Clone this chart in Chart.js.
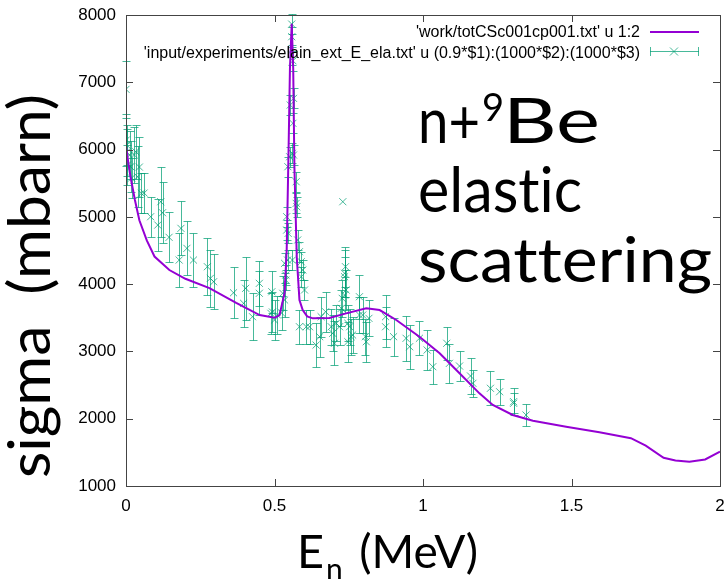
<!DOCTYPE html>
<html>
<head>
<meta charset="utf-8">
<script src="https://cdn.jsdelivr.net/npm/chart.js@4.4.1/dist/chart.umd.min.js"></script>
<style>
  html, body { margin: 0; padding: 0; background: #fff; }
  #wrap { width: 726px; height: 579px; }
</style>
</head>
<body>
<div id="wrap"><canvas id="chart" width="726" height="579"></canvas></div>
<script>
// Theory curve: 'work/totCSc001cp001.txt' u 1:2
const theoryE = [0, 0.008, 0.015, 0.03, 0.045, 0.07, 0.096, 0.146, 0.2, 0.281, 0.371, 0.45, 0.5, 0.517, 0.534, 0.541, 0.547, 0.552, 0.558, 0.563, 0.567, 0.575, 0.584, 0.595, 0.61, 0.629, 0.685, 0.741, 0.809, 0.854, 0.91, 0.988, 1.056, 1.123, 1.19, 1.235, 1.302, 1.37, 1.482, 1.594, 1.7, 1.75, 1.81, 1.85, 1.897, 1.95, 2.0];
const theorySigma = [6050, 5800, 5600, 5250, 4950, 4650, 4410, 4210, 4080, 3940, 3720, 3540, 3500, 3541, 3870, 4500, 5900, 7200, 7870, 7200, 5745, 4400, 3764, 3615, 3520, 3492, 3496, 3566, 3640, 3615, 3467, 3218, 2972, 2675, 2377, 2204, 2055, 1970, 1881, 1798, 1710, 1600, 1420, 1380, 1360, 1395, 1510];

// Experimental data (energy MeV, sigma mbarn, error mbarn)
const expE = [0.000, 0.001, 0.002, 0.003, 0.005, 0.012, 0.016, 0.019, 0.028, 0.033, 0.039, 0.045, 0.052, 0.061, 0.083, 0.107, 0.117, 0.123, 0.145, 0.179,
  0.185, 0.205, 0.227, 0.274, 0.284, 0.295, 0.362, 0.396, 0.403, 0.426, 0.449, 0.449, 0.491, 0.488, 0.493, 0.500, 0.510, 0.524, 0.528, 0.534,
  0.534, 0.538, 0.538, 0.541, 0.541, 0.544, 0.545, 0.546, 0.551, 0.553, 0.558, 0.558, 0.558, 0.560, 0.560, 0.562, 0.562, 0.564, 0.564, 0.573,
  0.573, 0.575, 0.578, 0.584, 0.590, 0.590, 0.595, 0.601, 0.584, 0.607, 0.618, 0.640, 0.652, 0.657, 0.672, 0.691, 0.696, 0.702, 0.708, 0.719,
  0.725, 0.728, 0.730, 0.736, 0.736, 0.736, 0.739, 0.741, 0.747, 0.747, 0.753, 0.758, 0.763, 0.786, 0.786, 0.797, 0.806, 0.809, 0.818, 0.874,
  0.874, 0.901, 0.943, 0.955, 0.988, 1.014, 1.033, 1.080, 1.089, 1.123, 1.160, 1.168, 1.227, 1.258, 1.305, 1.305, 1.347];
const expSigma = [6895, 6142, 5963, 6067, 5770, 5919, 5745, 5577, 5919, 5968, 5596, 5740, 5350, 5354, 5002, 4878, 5225, 5061, 4696, 4358,
  4829, 4532, 4358, 4259, 4086, 4036, 3872, 3715, 3938, 3516, 4012, 3864, 3887, 3566, 3586, 3467, 3541, 3571, 3864, 3764,
  4309, 4061, 4135, 4804, 5002, 4358, 5745, 4755, 5893, 6662, 7865, 7677, 7405, 5944, 4358, 7320, 6390, 5919, 6761, 5522,
  5201, 5150, 4656, 4482, 4333, 4110, 4210, 3913, 3367, 3367, 3367, 3095, 3219, 3516, 3590, 3367, 3269, 3121, 3418, 3367,
  3641, 3789, 5225, 3838, 4161, 4110, 4259, 3913, 3418, 3144, 3367, 3219, 3244, 3541, 3813, 3541, 3219, 3144, 3492, 3516,
  3367, 3219, 3195, 3070, 3195, 3021, 2773, 3121, 2823, 2783, 2635, 2526, 2452, 2401, 2253, 2229, 2055];
const expErr = [420, 380, 350, 300, 300, 350, 380, 300, 420, 400, 450, 450, 300, 300, 300, 380, 520, 450, 370, 400,
  400, 400, 400, 420, 420, 410, 380, 350, 470, 350, 330, 330, 310, 300, 300, 300, 280, 250, 250, 250,
  150, 150, 150, 150, 150, 150, 150, 150, 150, 150, 150, 150, 150, 150, 150, 150, 150, 150, 150, 150,
  150, 150, 150, 150, 150, 150, 150, 150, 250, 250, 250, 330, 300, 300, 300, 270, 270, 330, 270, 270,
  270, 270, 0, 270, 350, 300, 300, 300, 270, 300, 270, 270, 270, 270, 330, 270, 270, 300, 270, 330,
  300, 280, 330, 330, 250, 300, 250, 245, 285, 225, 265, 200, 250, 190, 205, 150, 165];

const xTicks = [0, 0.5, 1, 1.5, 2];
const yTicks = [1000, 2000, 3000, 4000, 5000, 6000, 7000, 8000];

const theoryLabel = "'work/totCSc001cp001.txt' u 1:2";
const expLabel = "'input/experiments/elain_ext_E_ela.txt' u (0.9*$1):(1000*$2):(1000*$3)";

const theoryColor = '#9400d3';
const expColor = 'rgba(0, 158, 115, 0.72)';
const bigFont = 'Lato, "Open Sans", sans-serif';

// Draw text stretched/squeezed to a target width
function fitText(ctx, text, x, y, width) {
    const w = ctx.measureText(text).width;
    ctx.save();
    ctx.translate(x, y);
    ctx.scale(width / w, 1);
    ctx.fillText(text, 0, 0);
    ctx.restore();
}

// Error bars, frame, ticks, legend and labels in gnuplot style
const gnuplotExtras = {
    id: 'gnuplotExtras',
    beforeDatasetsDraw(chart) {
        const { ctx, scales: { x, y } } = chart;
        ctx.save();
        ctx.strokeStyle = expColor;
        ctx.lineWidth = 1;
        expE.forEach((e, i) => {
            if (expErr[i] <= 0) return;
            const px = Math.round(x.getPixelForValue(e)) + 0.5;
            const top = Math.round(y.getPixelForValue(expSigma[i] + expErr[i])) + 0.5;
            const bot = Math.round(y.getPixelForValue(expSigma[i] - expErr[i])) + 0.5;
            ctx.beginPath();
            ctx.moveTo(px, top); ctx.lineTo(px, bot);
            ctx.moveTo(px - 4, top); ctx.lineTo(px + 4, top);
            ctx.moveTo(px - 4, bot); ctx.lineTo(px + 4, bot);
            ctx.stroke();
        });
        ctx.restore();
    },
    afterDraw(chart) {
        const { ctx, chartArea: a, scales: { x, y } } = chart;
        ctx.save();
        // frame
        ctx.strokeStyle = '#444';
        ctx.lineWidth = 1;
        ctx.strokeRect(Math.round(a.left) + 0.5, Math.round(a.top) + 0.5, Math.round(a.right - a.left), Math.round(a.bottom - a.top));
        // inner ticks on all sides
        ctx.beginPath();
        yTicks.forEach(v => {
            const py = Math.round(y.getPixelForValue(v)) + 0.5;
            ctx.moveTo(a.left, py); ctx.lineTo(a.left + 7, py);
            ctx.moveTo(a.right, py); ctx.lineTo(a.right - 7, py);
        });
        xTicks.forEach(v => {
            const px = Math.round(x.getPixelForValue(v)) + 0.5;
            ctx.moveTo(px, a.bottom); ctx.lineTo(px, a.bottom - 7);
            ctx.moveTo(px, a.top); ctx.lineTo(px, a.top + 7);
        });
        ctx.stroke();

        // legend
        ctx.fillStyle = '#000';
        ctx.font = '16px "Liberation Sans", Arial, sans-serif';
        ctx.textAlign = 'right';
        ctx.textBaseline = 'alphabetic';
        ctx.fillText(theoryLabel, 640, 37);
        ctx.fillText(expLabel, 640, 58);
        ctx.strokeStyle = theoryColor;
        ctx.lineWidth = 2;
        ctx.beginPath(); ctx.moveTo(650, 32); ctx.lineTo(699, 32); ctx.stroke();
        ctx.strokeStyle = expColor;
        ctx.lineWidth = 1;
        ctx.beginPath();
        ctx.moveTo(650, 51.5); ctx.lineTo(699, 51.5);
        ctx.moveTo(650.5, 47); ctx.lineTo(650.5, 56);
        ctx.moveTo(698.5, 47); ctx.lineTo(698.5, 56);
        ctx.moveTo(670, 47.5); ctx.lineTo(678, 55.5);
        ctx.moveTo(670, 55.5); ctx.lineTo(678, 47.5);
        ctx.stroke();

        // titles and annotation (no ligatures, Calibri-like)
        ctx.textRendering = 'optimizeSpeed';
        ctx.fillStyle = '#000';
        ctx.textAlign = 'left';
        ctx.font = '58px ' + bigFont;
        ctx.save();
        ctx.translate(50, 478);
        ctx.rotate(-Math.PI / 2);
        fitText(ctx, 'sigma  (mbarn)', 0, 0, 384);
        ctx.restore();

        // x title with subscript
        ctx.font = '46px ' + bigFont;
        fitText(ctx, 'E', 297, 568, 27);
        ctx.font = '30px ' + bigFont;
        ctx.fillText('n', 326, 580);
        ctx.font = '46px ' + bigFont;
        ctx.textAlign = 'right';
        ctx.fillText('(MeV)', 478, 568);

        // annotation
        ctx.textAlign = 'left';
        ctx.font = '62px ' + bigFont;
        fitText(ctx, 'n+', 418, 143, 62);
        ctx.font = '38px ' + bigFont;
        ctx.fillText('9', 482, 121);
        ctx.font = '62px ' + bigFont;
        fitText(ctx, 'Be', 503, 143, 97);
        fitText(ctx, 'elastic', 418, 212, 164);
        fitText(ctx, 'scattering', 418, 282, 294);
        ctx.restore();
    }
};

// Keep the plot box where gnuplot put it: tick labels must not add padding
function noLabelPadding(scale) {
    scale.paddingLeft = 0;
    scale.paddingRight = 0;
    scale.paddingTop = 0;
    scale.paddingBottom = 0;
}

new Chart(document.getElementById('chart'), {
    type: 'scatter',
    data: {
        datasets: [{
            label: theoryLabel,
            data: theoryE.map((e, i) => ({ x: e, y: theorySigma[i] })),
            showLine: true,
            borderColor: theoryColor,
            borderWidth: 2,
            pointRadius: 0,
            tension: 0
        }, {
            label: expLabel,
            data: expE.map((e, i) => ({ x: e, y: expSigma[i] })),
            showLine: false,
            pointStyle: 'crossRot',
            pointRadius: 5,
            borderColor: expColor,
            backgroundColor: expColor,
            borderWidth: 1
        }]
    },
    options: {
        responsive: false,
        animation: false,
        layout: { padding: { top: 15, right: 5, left: 0, bottom: 0 } },
        plugins: { legend: { display: false }, tooltip: { enabled: false } },
        scales: {
            x: {
                type: 'linear',
                min: 0,
                max: 2,
                afterBuildTicks: scale => { scale.ticks = xTicks.map(v => ({ value: v })); },
                afterFit: scale => { scale.height = 93; noLabelPadding(scale); },
                grid: { display: false, drawTicks: false },
                border: { display: false },
                ticks: { color: '#000', font: { family: '"Liberation Sans", Arial, sans-serif', size: 17 }, padding: 10, callback: v => String(v) }
            },
            y: {
                min: 1000,
                max: 8000,
                afterBuildTicks: scale => { scale.ticks = yTicks.map(v => ({ value: v })); },
                afterFit: scale => { scale.width = 126; noLabelPadding(scale); },
                grid: { display: false, drawTicks: false },
                border: { display: false },
                ticks: { color: '#000', font: { family: '"Liberation Sans", Arial, sans-serif', size: 17 }, padding: 10, callback: v => String(v) }
            }
        }
    },
    plugins: [gnuplotExtras]
});
</script>
</body>
</html>
